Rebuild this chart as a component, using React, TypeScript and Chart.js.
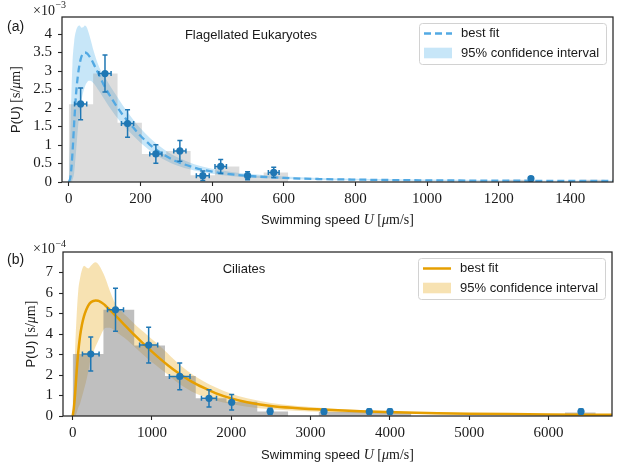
import React, { useEffect, useRef } from "react";
import { Chart, registerables } from "chart.js";

Chart.register(...registerables);

// ---------------- Panel (a): Flagellated Eukaryotes (y in units of 1e-3 s/μm) ----------------
const titleA = "Flagellated Eukaryotes";
const panelLabelA = "(a)";
const expA = "−3";
const xTicksA = [0, 200, 400, 600, 800, 1000, 1200, 1400];
const yTicksA = [0, 0.5, 1, 1.5, 2, 2.5, 3, 3.5, 4];

const histEdgesA = [0, 68, 136, 204, 272, 340, 408, 476, 544, 612, 680, 748, 816, 884, 952, 1020, 1088, 1156, 1224, 1292, 1360, 1428, 1496];
const histHeightsA = [2.1, 2.93, 1.6, 0.76, 0.84, 0.18, 0.42, 0.17, 0.26, 0, 0, 0, 0, 0, 0, 0, 0, 0, 0.06, 0, 0, 0.06];

const curveXA = [0, 5, 10, 15, 20, 25, 30, 35, 40, 45, 50, 55, 60, 70, 80, 90, 100, 115, 130, 150, 165, 180, 200, 225, 250, 275, 300, 350, 400, 450, 500, 600, 700, 800, 900, 1000, 1200, 1400, 1520];
const fitA = [0, 0.15, 0.75, 1.6, 2.35, 2.85, 3.18, 3.38, 3.47, 3.5, 3.48, 3.43, 3.36, 3.18, 2.98, 2.78, 2.58, 2.33, 2.1, 1.82, 1.64, 1.47, 1.25, 1.02, 0.83, 0.68, 0.56, 0.39, 0.28, 0.21, 0.165, 0.11, 0.08, 0.065, 0.053, 0.045, 0.036, 0.03, 0.027];
const upperA = [0, 1.6, 3.15, 3.8, 4.08, 4.2, 4.23, 4.17, 4.18, 4.23, 4.18, 4.05, 3.88, 3.52, 3.22, 3.0, 2.85, 2.6, 2.38, 2.08, 1.88, 1.68, 1.45, 1.2, 0.99, 0.82, 0.68, 0.48, 0.36, 0.28, 0.22, 0.15, 0.11, 0.09, 0.075, 0.065, 0.05, 0.042, 0.038];
const lowerA = [0, 0, 0.05, 0.25, 0.8, 1.4, 1.9, 2.2, 2.42, 2.58, 2.68, 2.74, 2.74, 2.66, 2.52, 2.38, 2.22, 2.0, 1.8, 1.56, 1.4, 1.25, 1.06, 0.86, 0.69, 0.56, 0.45, 0.31, 0.22, 0.16, 0.12, 0.08, 0.055, 0.045, 0.035, 0.03, 0.024, 0.02, 0.018];

const ptXA = [33, 101, 164, 243, 310, 374, 424, 499, 572, 1290];
const ptYA = [2.11, 2.93, 1.58, 0.76, 0.84, 0.17, 0.42, 0.17, 0.26, 0.09];
const xErrA = [17, 17, 17, 17, 17, 18, 16, 0, 15, 0];
const yErrA = [0.43, 0.5, 0.37, 0.25, 0.28, 0.13, 0.19, 0.11, 0.14, 0.05];

// ---------------- Panel (b): Ciliates (y in units of 1e-4 s/μm) ----------------
const titleB = "Ciliates";
const panelLabelB = "(b)";
const expB = "−4";
const xTicksB = [0, 1000, 2000, 3000, 4000, 5000, 6000];
const yTicksB = [0, 1, 2, 3, 4, 5, 6, 7];

const histEdgesB = [0, 388, 776, 1164, 1552, 1940, 2328, 2716, 3104, 3492, 3880, 4268, 4656, 5044, 5432, 5820, 6208, 6596];
const histHeightsB = [3.02, 5.18, 3.44, 1.95, 0.86, 0.7, 0.22, 0, 0.2, 0.2, 0.2, 0, 0, 0, 0, 0, 0.17];

const curveXB = [0, 15, 30, 50, 70, 93, 115, 143, 170, 198, 230, 260, 290, 320, 350, 388, 420, 470, 540, 620, 690, 800, 900, 1000, 1100, 1200, 1350, 1500, 1650, 1800, 2000, 2200, 2500, 2800, 3200, 3700, 4200, 4600, 5000, 5500, 6000, 6500, 6800];
const fitB = [0, 0.4, 1.04, 2.15, 3.1, 3.9, 4.42, 4.87, 5.17, 5.4, 5.55, 5.61, 5.63, 5.62, 5.57, 5.47, 5.36, 5.17, 4.9, 4.58, 4.3, 3.87, 3.5, 3.14, 2.8, 2.48, 2.05, 1.68, 1.38, 1.12, 0.86, 0.67, 0.49, 0.39, 0.3, 0.22, 0.165, 0.135, 0.112, 0.092, 0.077, 0.065, 0.058];
const upperB = [0, 1.4, 3.2, 4.9, 6.1, 6.72, 7.1, 7.33, 7.26, 7.2, 7.33, 7.45, 7.5, 7.42, 7.25, 6.95, 6.65, 6.1, 5.47, 5.08, 4.83, 4.42, 4.08, 3.75, 3.42, 3.05, 2.5, 2.05, 1.7, 1.4, 1.08, 0.86, 0.64, 0.5, 0.38, 0.28, 0.21, 0.17, 0.14, 0.115, 0.095, 0.08, 0.074];
const lowerB = [0, 0, 0, 0.15, 0.4, 0.6, 0.9, 1.3, 1.7, 2.2, 2.85, 3.1, 3.4, 3.65, 3.9, 4.2, 4.3, 4.3, 4.12, 3.9, 3.7, 3.3, 2.95, 2.62, 2.32, 2.02, 1.55, 1.2, 0.95, 0.76, 0.58, 0.45, 0.33, 0.26, 0.2, 0.14, 0.11, 0.09, 0.075, 0.06, 0.05, 0.043, 0.04];

const ptXB = [228, 540, 958, 1350, 1719, 2005, 2490, 3169, 3740, 4001, 6410];
const ptYB = [3.02, 5.18, 3.46, 1.93, 0.86, 0.67, 0.23, 0.22, 0.22, 0.22, 0.22];
const xErrB = [105, 101, 114, 130, 95, 0, 0, 0, 0, 0, 0];
const yErrB = [0.83, 1.05, 0.87, 0.65, 0.42, 0.38, 0.15, 0.12, 0.12, 0.12, 0.12];

// ---------------- shared text ----------------
const legendFitLabel = "best fit";
const legendBandLabel = "95% confidence interval";
const xTitleSans = "Swimming speed ";
const xTitleVar = "U";
const yTitleSans = "P(U)";

const W = 617;
const H = 232;
const SANS = '"Liberation Sans", Arial, sans-serif';
const SERIF = '"Liberation Serif", "Times New Roman", serif';
const INK = "#1a1a1a";
const PT_COLOR = "#1f77b4";

type Panel = {
  title: string; label: string; exp: string;
  xTicks: number[]; yTicks: number[];
  edges: number[]; heights: number[];
  cx: number[]; fit: number[]; upper: number[]; lower: number[];
  px: number[]; py: number[]; xe: number[]; ye: number[];
  xMin: number; xMax: number; yMax: number;
  top: number; bottom: number; left: number; right: number;
  fitColor: string; fitWidth: number; dash: number[]; bandColor: string; histColor: string;
  titleX: number; titleY: number; labelY: number; multBase: number; expBase: number;
  yTitleX: number; xTitleY: number;
};

const panelA: Panel = {
  title: titleA, label: panelLabelA, exp: expA,
  xTicks: xTicksA, yTicks: yTicksA,
  edges: histEdgesA, heights: histHeightsA,
  cx: curveXA, fit: fitA, upper: upperA, lower: lowerA,
  px: ptXA, py: ptYA, xe: xErrA, ye: yErrA,
  xMin: -19, xMax: 1519, yMax: 4.46,
  top: 17, bottom: 182, left: 62, right: 613,
  fitColor: "#52a9e3", fitWidth: 2.3, dash: [7, 4], bandColor: "rgba(86,180,233,0.33)", histColor: "rgba(128,128,128,0.28)",
  titleX: 251, titleY: 38.6, labelY: 30.5, multBase: 15, expBase: 8,
  yTitleX: 20, xTitleY: 224,
};

const panelB: Panel = {
  title: titleB, label: panelLabelB, exp: expB,
  xTicks: xTicksB, yTicks: yTicksB,
  edges: histEdgesB, heights: histHeightsB,
  cx: curveXB, fit: fitB, upper: upperB, lower: lowerB,
  px: ptXB, py: ptYB, xe: xErrB, ye: yErrB,
  xMin: -122, xMax: 6801, yMax: 8.0,
  top: 20, bottom: 184, left: 63, right: 612,
  fitColor: "#e69f00", fitWidth: 2.5, dash: [], bandColor: "rgba(230,159,0,0.3)", histColor: "rgba(128,128,128,0.5)",
  titleX: 244, titleY: 40.7, labelY: 31.7, multBase: 20.5, expBase: 14.5,
  yTitleX: 35, xTitleY: 227,
};

function drawRuns(ctx: CanvasRenderingContext2D, runs: { t: string; f: string }[], x: number, y: number, center: boolean) {
  const widths = runs.map((r) => { ctx.font = r.f; return ctx.measureText(r.t).width; });
  const total = widths.reduce((a, b) => a + b, 0);
  let cx = center ? x - total / 2 : x;
  ctx.textAlign = "left";
  ctx.textBaseline = "alphabetic";
  runs.forEach((r, i) => { ctx.font = r.f; ctx.fillText(r.t, cx, y); cx += widths[i]; });
}

function makePlugin(p: Panel) {
  return {
    id: "decor",
    beforeDatasetDraw(chart: any, args: any) {
      if (args.index !== 4) return;
      const ctx: CanvasRenderingContext2D = chart.ctx;
      const xs = chart.scales.x;
      const ys = chart.scales.y;
      ctx.save();
      ctx.strokeStyle = PT_COLOR;
      ctx.lineWidth = 1.5;
      const cap = 2.5;
      p.px.forEach((xv, i) => {
        const cxp = xs.getPixelForValue(xv);
        const cyp = ys.getPixelForValue(p.py[i]);
        ctx.beginPath();
        if (p.ye[i] > 0) {
          const y1 = ys.getPixelForValue(p.py[i] - p.ye[i]);
          const y2 = ys.getPixelForValue(p.py[i] + p.ye[i]);
          ctx.moveTo(cxp, y1); ctx.lineTo(cxp, y2);
          ctx.moveTo(cxp - cap, y1); ctx.lineTo(cxp + cap, y1);
          ctx.moveTo(cxp - cap, y2); ctx.lineTo(cxp + cap, y2);
        }
        if (p.xe[i] > 0) {
          const x1 = xs.getPixelForValue(xv - p.xe[i]);
          const x2 = xs.getPixelForValue(xv + p.xe[i]);
          ctx.moveTo(x1, cyp); ctx.lineTo(x2, cyp);
          ctx.moveTo(x1, cyp - cap); ctx.lineTo(x1, cyp + cap);
          ctx.moveTo(x2, cyp - cap); ctx.lineTo(x2, cyp + cap);
        }
        ctx.stroke();
      });
      ctx.restore();
    },
    afterDraw(chart: any) {
      const ctx: CanvasRenderingContext2D = chart.ctx;
      const a = chart.chartArea;
      ctx.save();
      // frame
      ctx.strokeStyle = "#262626";
      ctx.lineWidth = 1.25;
      ctx.strokeRect(a.left, a.top, a.right - a.left, a.bottom - a.top);

      // legend
      const bx = a.right - 194;
      const by = a.top + 6;
      const bw = 187;
      const bh = 41;
      ctx.beginPath();
      (ctx as any).roundRect(bx + 0.5, by + 0.5, bw, bh, 3);
      ctx.fillStyle = "rgba(255,255,255,0.85)";
      ctx.fill();
      ctx.strokeStyle = "#d2d2d2";
      ctx.lineWidth = 1;
      ctx.stroke();
      const r1 = by + 10.5;
      const r2 = by + 30;
      ctx.beginPath();
      ctx.strokeStyle = p.fitColor;
      ctx.lineWidth = p.fitWidth;
      ctx.setLineDash(p.dash);
      ctx.moveTo(bx + 5, r1);
      ctx.lineTo(bx + 33, r1);
      ctx.stroke();
      ctx.setLineDash([]);
      ctx.fillStyle = p.bandColor;
      ctx.fillRect(bx + 5, r2 - 5.3, 28, 10.6);
      ctx.fillStyle = INK;
      ctx.font = `13px ${SANS}`;
      ctx.textAlign = "left";
      ctx.textBaseline = "middle";
      ctx.fillText(legendFitLabel, bx + 42, r1);
      ctx.fillText(legendBandLabel, bx + 42, r2);

      // panel title
      ctx.textBaseline = "alphabetic";
      ctx.textAlign = "center";
      ctx.font = `13px ${SANS}`;
      ctx.fillText(p.title, p.titleX, p.titleY);

      // panel label
      ctx.textAlign = "left";
      ctx.font = `14px ${SANS}`;
      ctx.fillText(p.label, 7, p.labelY);

      // multiplier ×10^n
      ctx.font = `14px ${SERIF}`;
      ctx.fillText("×10", 33, p.multBase);
      const mw = ctx.measureText("×10").width;
      ctx.font = `10px ${SERIF}`;
      ctx.fillText(p.exp, 33 + mw + 0.5, p.expBase);

      // x title
      drawRuns(ctx, [
        { t: xTitleSans, f: `13px ${SANS}` },
        { t: xTitleVar, f: `italic 14px ${SERIF}` },
        { t: " [", f: `14px ${SERIF}` },
        { t: "μ", f: `italic 14px ${SERIF}` },
        { t: "m/s]", f: `14px ${SERIF}` },
      ], (a.left + a.right) / 2, p.xTitleY, true);

      // y title
      ctx.translate(p.yTitleX, (a.top + a.bottom) / 2);
      ctx.rotate(-Math.PI / 2);
      drawRuns(ctx, [
        { t: yTitleSans, f: `13px ${SANS}` },
        { t: " [s/", f: `14px ${SERIF}` },
        { t: "μ", f: `italic 14px ${SERIF}` },
        { t: "m]", f: `14px ${SERIF}` },
      ], 0, 0, true);
      ctx.restore();
    },
  };
}

function buildChart(canvas: HTMLCanvasElement, p: Panel) {
  const pts = (xs: number[], ys: number[]) => xs.map((x, i) => ({ x, y: ys[i] }));
  const hist = p.edges.map((x, i) => ({ x, y: i < p.heights.length ? p.heights[i] : 0 }));
  const tickFont = { family: SERIF, size: 15 };
  return new Chart(canvas, {
    type: "line",
    data: {
      datasets: [
        { type: "line", data: pts(p.cx, p.upper), borderWidth: 0, borderColor: "transparent", pointRadius: 0, fill: "+1", backgroundColor: p.bandColor, cubicInterpolationMode: "monotone", order: 4 },
        { type: "line", data: pts(p.cx, p.lower), borderWidth: 0, borderColor: "transparent", pointRadius: 0, fill: false, cubicInterpolationMode: "monotone", order: 4 },
        { type: "line", data: hist, stepped: true, borderWidth: 0, borderColor: "transparent", pointRadius: 0, fill: "origin", backgroundColor: p.histColor, order: 3 },
        { type: "line", data: pts(p.cx, p.fit), borderColor: p.fitColor, borderWidth: p.fitWidth, borderDash: p.dash, pointRadius: 0, fill: false, cubicInterpolationMode: "monotone", order: 2 },
        { type: "scatter", data: pts(p.px, p.py), pointRadius: 3.6, backgroundColor: PT_COLOR, borderWidth: 0, order: 1 },
      ] as any,
    },
    options: {
      responsive: false,
      animation: false,
      events: [],
      layout: { padding: { left: 0, right: W - p.right, top: p.top, bottom: 0 } },
      plugins: { legend: { display: false }, tooltip: { enabled: false }, title: { display: false } },
      scales: {
        x: {
          type: "linear",
          min: p.xMin,
          max: p.xMax,
          afterFit: (s: any) => { s.height = H - p.bottom; },
          afterBuildTicks: (s: any) => { s.ticks = p.xTicks.map((v) => ({ value: v })); },
          ticks: { font: tickFont, color: INK, padding: 4, maxRotation: 0, autoSkip: false, callback: (v: any) => String(v) },
          grid: { display: true, drawOnChartArea: false, drawTicks: true, tickLength: 4, tickColor: "#262626", tickWidth: 1.1, color: "#262626" },
          border: { display: false },
        },
        y: {
          type: "linear",
          min: 0,
          max: p.yMax,
          afterFit: (s: any) => { s.width = p.left; },
          afterBuildTicks: (s: any) => { s.ticks = p.yTicks.map((v) => ({ value: v })); },
          ticks: { font: tickFont, color: INK, padding: 6, autoSkip: false, callback: (v: any) => String(v) },
          grid: { display: true, drawOnChartArea: false, drawTicks: true, tickLength: 4, tickColor: "#262626", tickWidth: 1.1, color: "#262626" },
          border: { display: false },
        },
      },
    } as any,
    plugins: [makePlugin(p)],
  });
}

function PanelChart({ cfg }: { cfg: Panel }) {
  const ref = useRef<HTMLCanvasElement | null>(null);
  useEffect(() => {
    if (!ref.current) return;
    const chart = buildChart(ref.current, cfg);
    return () => chart.destroy();
  }, [cfg]);
  return <canvas ref={ref} width={W} height={H} style={{ display: "block", width: W, height: H }} />;
}

export default function App() {
  return (
    <div style={{ position: "absolute", left: 0, top: 0, width: W, height: 2 * H, background: "#ffffff" }}>
      <PanelChart cfg={panelA} />
      <PanelChart cfg={panelB} />
    </div>
  );
}
